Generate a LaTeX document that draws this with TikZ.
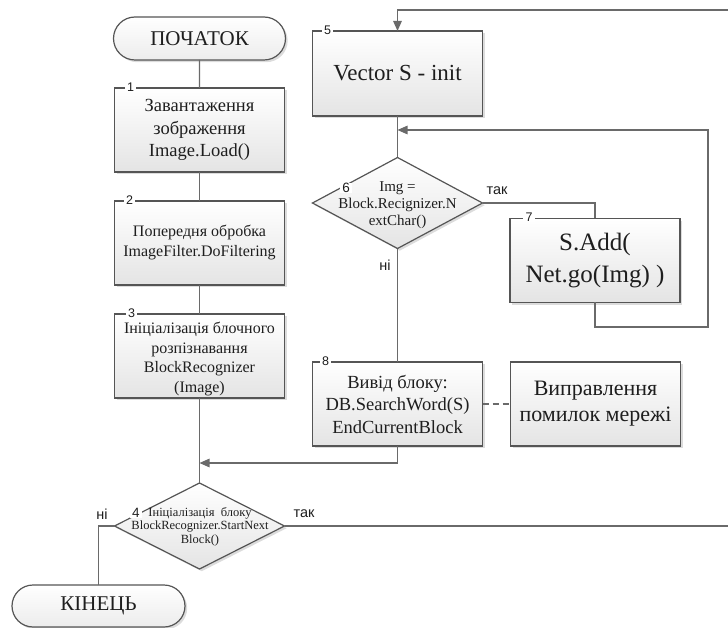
\documentclass[tikz,border=0pt]{standalone}
\usepackage{fontspec}
\setmainfont{Liberation Serif}
\newfontfamily\lsans{Liberation Sans}
\usetikzlibrary{shapes.geometric,shapes.misc,shadows,arrows.meta}

\definecolor{edgegray}{HTML}{555555}
\definecolor{wiregray}{HTML}{6A6A6A}
\definecolor{shadegray}{HTML}{E4E4E4}
\definecolor{inkgray}{HTML}{1E1E1E}

\newcommand{\fs}[2]{\fontsize{#1}{#2}\selectfont}

\begin{document}
\begin{tikzpicture}[x=1pt,y=-1pt,
  every node/.style={inner sep=0pt, outer sep=0pt, text=inkgray},
  boxshadow/.style={drop shadow={opacity=0.28, shadow xshift=2.2pt, shadow yshift=-2.2pt}},
  proc/.style={rectangle, draw=edgegray, line width=1.2pt,
    minimum width=170pt, minimum height=84pt,
    top color=white, bottom color=shadegray, boxshadow, align=center},
  decision/.style={diamond, draw=edgegray, line width=1.2pt,
    minimum width=170pt, minimum height=86pt, inner sep=0pt,
    top color=white, bottom color=shadegray, boxshadow},
  term/.style={rounded rectangle, draw=edgegray, line width=1.2pt,
    minimum width=172pt, minimum height=43pt,
    top color=white, bottom color=shadegray!70, boxshadow, font=\rmfamily\fs{21}{24}},
  tag/.style={font=\lsans\fs{12.5}{12.5}, fill=white, inner xsep=2.5pt, inner ysep=0.5pt},
  answer/.style={font=\lsans\fs{14.5}{15}},
  wire/.style={draw=wiregray, line width=1.3pt},
  arr/.style={wire, -{Triangle[length=10pt,width=8.5pt]}}
]
\useasboundingbox (0,0) rectangle (728,628);

% left column
\node[term] (start) at (199.5,38.5) {ПОЧАТОК};
\node[proc, font=\rmfamily\fs{18.5}{22.5}] (b1) at (199.5,130)
  {Завантаження\\зображення\\Image.Load()};
\node[proc, font=\rmfamily\fs{16}{20}] (b2) at (199.5,243)
  {Попередня обробка\\ImageFilter.DoFiltering};
\node[proc, font=\rmfamily\fs{16}{19.5}] (b3) at (199.5,356)
  {\rule{0pt}{17pt}Ініціалізація блочного\\розпізнавання\\BlockRecognizer\\(Image)};
\node[decision] (d4) at (199.5,526) {};
\node[font=\rmfamily\fs{12.5}{13.5}, align=center] (d4t) at (200,526.5)
  {Ініціалізація\ \ блоку\\BlockRecognizer.StartNext\\Block()};
\node[term, minimum width=173pt, minimum height=42pt] (end) at (98.5,606) {КІНЕЦЬ};

% inner loop column
\node[proc, minimum height=85pt, font=\rmfamily\fs{23}{26}] (b5) at (397.5,73.5) {Vector S - init};
\node[decision, minimum height=91pt] (d6) at (397.5,203) {};
\node[font=\rmfamily\fs{15}{17}, align=center] (d6t) at (397.5,205)
  {Img =\\Block.Recignizer.N\\extChar()};
\node[proc, font=\rmfamily\fs{25}{32}] (b7) at (595,260.5) {S.Add(\\Net.go(Img) )};
\node[proc, font=\rmfamily\fs{18.5}{22.5}] (b8) at (397.5,404)
  {Вивід блоку:\\DB.SearchWord(S)\\EndCurrentBlock};
\node[proc, font=\rmfamily\fs{22}{26}] (b9) at (595.5,404) {Виправлення\\помилок мережі};

% block numbers
\node[tag] (n1) at ([xshift=16pt,yshift=1pt]b1.north west) {1};
\node[tag] (n2) at ([xshift=15pt,yshift=1pt]b2.north west) {2};
\node[tag] (n3) at ([xshift=17pt,yshift=1pt]b3.north west) {3};
\node[tag] (n5) at ([xshift=15pt,yshift=1pt]b5.north west) {5};
\node[tag] (n7) at ([xshift=19pt,yshift=1pt]b7.north west) {7};
\node[tag] (n8) at ([xshift=13pt,yshift=1pt]b8.north west) {8};
\node[tag, font=\lsans\fs{13.5}{13.5}] (n4) at (136,513) {4};
\node[tag, font=\lsans\fs{13.5}{13.5}] (n6) at (346,188) {6};

% junctions and bends
\coordinate (m4) at (199.5,463);
\coordinate (m6) at (397.5,130);
\coordinate (lp1) at (708,327);
\coordinate (r1) at (731,526);
\coordinate (r2) at (731,10);

% main flow
\draw[wire] (start) -- (b1);
\draw[wire] (b1) -- (b2);
\draw[wire] (b2) -- (b3);
\draw[wire] (b3) -- (d4);
\draw[wire] (d4.west) -| (end.north);
\draw[arr] (d4.east) -- (r1) -- (r2) -| (b5.north);
\draw[wire] (b5) -- (d6);
\draw[wire] (d6.east) -| (b7.north);
\draw[arr] (b7.south) |- (lp1) |- (m6);
\draw[wire] (d6) -- (b8);
\draw[arr] (b8.south) |- (m4);
\draw[wire, dashed, dash pattern=on 6pt off 4pt] (b8.east) -- (b9.west);

% branch answers
\node[answer] (a4n) at (102,514) {ні};
\node[answer] (a4y) at (304,514) {так};
\node[answer] (a6y) at (497,191) {так};
\node[answer] (a6n) at (385,265) {ні};
\end{tikzpicture}
\end{document}
